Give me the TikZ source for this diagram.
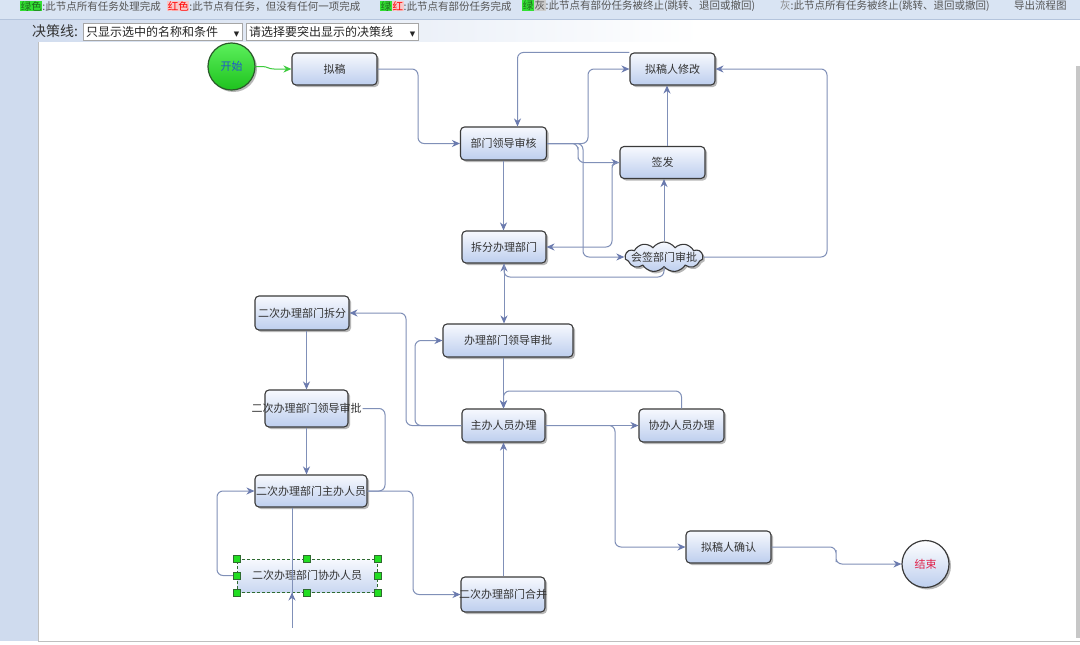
\documentclass[tikz,border=0pt]{standalone}
\usepackage{fontspec}
\setmainfont{Noto Sans CJK SC}
\newfontfamily\symfont{DejaVu Sans}
\usetikzlibrary{arrows.meta,shapes.symbols,shadows}
\definecolor{topbar}{HTML}{D9E4F3}
\definecolor{topline}{HTML}{B4C4DC}
\definecolor{strip}{HTML}{CFDBEE}
\definecolor{boxtop}{HTML}{F7F9FE}
\definecolor{boxbot}{HTML}{BDCEEE}
\definecolor{boxline}{HTML}{3A3A3A}
\definecolor{txt}{HTML}{333333}
\definecolor{edgec}{HTML}{8090B8}
\definecolor{arrowc}{HTML}{6A7AAE}
\definecolor{starttop}{HTML}{5CF05C}
\definecolor{startbot}{HTML}{1EC21E}
\definecolor{startline}{HTML}{2A5A2A}
\definecolor{startlink}{HTML}{3CCB3C}
\definecolor{starttext}{HTML}{2255CC}
\definecolor{endtext}{HTML}{E0204A}
\definecolor{hlg}{HTML}{33E033}
\definecolor{hlgt}{HTML}{1E6A1E}
\definecolor{hlr}{HTML}{F9C8C8}
\definecolor{hlgray}{HTML}{CCCCCC}
\definecolor{toptxt}{HTML}{555555}
\definecolor{selgreen}{HTML}{22DD22}
\definecolor{seldark}{HTML}{2F6B2F}
\newcommand\ztext[1]{\makebox[0pt]{#1}}
\newcommand\hlbox[2]{{\setlength{\fboxsep}{0.6pt}\colorbox{#1}{#2}}}
\begin{document}
\begin{tikzpicture}[x=1pt,y=-1pt,
  box/.style 2 args={rectangle, rounded corners=4pt, draw=boxline, line width=1.1pt,
    top color=boxtop, bottom color=boxbot, minimum width=#1pt, minimum height=#2pt,
    inner sep=0pt, text=txt, font=\fontsize{11}{13}\selectfont,
    drop shadow={shadow xshift=2pt, shadow yshift=-2pt, opacity=.4, fill=black!70}},
  selbox/.style 2 args={rectangle, draw=seldark, line width=1pt, dash pattern=on 3pt off 2pt,
    top color=boxtop, bottom color=boxbot!80, minimum width=#1pt, minimum height=#2pt,
    inner sep=0pt, text=txt, font=\fontsize{11}{13}\selectfont},
  cloudnode/.style={cloud, cloud puffs=11, cloud puff arc=110, aspect=3,
    draw=boxline, line width=1.1pt, top color=boxtop, bottom color=boxbot,
    minimum width=78pt, minimum height=30pt, inner sep=0pt, text=txt,
    font=\fontsize{11}{13}\selectfont,
    drop shadow={shadow xshift=2pt, shadow yshift=-2pt, opacity=.4, fill=black!70}},
  startnode/.style={circle, draw=startline, line width=1.2pt, top color=starttop,
    bottom color=startbot, minimum size=47pt, inner sep=0pt, text=starttext,
    font=\fontsize{11}{13}\selectfont,
    drop shadow={shadow xshift=2pt, shadow yshift=-2pt, opacity=.4, fill=black!70}},
  endnode/.style={circle, draw=boxline, line width=1.2pt, top color=white,
    bottom color=boxbot, minimum size=47pt, inner sep=0pt, text=endtext,
    font=\fontsize{11}{13}\selectfont,
    drop shadow={shadow xshift=2pt, shadow yshift=-2pt, opacity=.4, fill=black!70}},
  edge/.style={draw=edgec, line width=1pt, rounded corners=6pt,
    -{Stealth[length=8pt,width=7pt,color=arrowc]}},
  plainline/.style={draw=edgec, line width=1pt, rounded corners=6pt},
  gedge/.style={draw=startlink, line width=1pt, -{Stealth[length=8pt,width=7pt]}},
  handle/.style={fill=selgreen, draw=seldark, line width=0.6pt},
  topt/.style={anchor=west, inner sep=0pt, text=toptxt, font=\fontsize{10.5}{12}\selectfont},
  dd/.style={draw=black!35, fill=white, rectangle, inner xsep=3pt, inner ysep=0pt,
    minimum height=17pt, anchor=west, text=black!85, font=\fontsize{12}{14}\selectfont}
]
\useasboundingbox (0,0) rectangle (1080,645);
\clip (0,0) rectangle (1080,645);
% backgrounds
\fill[white] (0,0) rectangle (1080,645);
\fill[topbar] (0,0) rectangle (1080,19);
\shade[left color=strip, right color=white] (0,19) rectangle (700,42);
\fill[strip] (0,19) rectangle (38,641);
\draw[topline, line width=1pt] (0,19) -- (1080,19);
\fill[white] (38,42) rectangle (1075,641);
\draw[black!25, line width=1pt] (38,42) -- (38,641) -- (1080,641);
\fill[black!22] (1076,66) rectangle (1080,638);
% top legend
\node[topt] (t1) at (20,6) {\hlbox{hlg}{\textcolor{hlgt}{绿色}}:此节点所有任务处理完成};
\node[topt] (t2) at (167,6) {\hlbox{hlr}{\textcolor{red}{红色}}:此节点有任务，但没有任何一项完成};
\node[topt] (t3) at (380,6) {\hlbox{hlg}{\textcolor{hlgt}{绿}}\hlbox{hlr}{\textcolor{red}{红}}:此节点有部份任务完成};
\node[topt] (t4) at (522,6) {\hlbox{hlg}{\textcolor{hlgt}{绿}}\hlbox{hlgray}{灰}:此节点有部份任务被终止(跳转、退回或撤回)};
\node[topt] (t5) at (780,6) {\textcolor{black!45}{灰}:此节点所有任务被终止(跳转、退回或撤回)};
\node[topt] (t6) at (1014,6) {导出流程图};
% decision line controls
\node[anchor=west, inner sep=0pt, text=black!80, font=\fontsize{14}{16}\selectfont] (jcx) at (32,31.5) {决策线:};
\node[dd] (dd1) at (83,31.5) {\makebox[153pt][l]{只显示选中的名称和条件\hfill{\symfont\fontsize{7}{8}\selectfont ▼}}};
\node[dd] (dd2) at (246,31.5) {\makebox[166pt][l]{请选择要突出显示的决策线\hfill{\symfont\fontsize{7}{8}\selectfont ▼}}};
% nodes
\node[startnode] (start) at (231.5,66.5) {开始};
\node[box={85}{32}] (ng) at (334.5,69) {\ztext{拟稿}};
\node[box={86}{33}] (bmsh) at (503.5,143.5) {\ztext{部门领导审核}};
\node[box={85}{32}] (ngxg) at (672.5,69) {\ztext{拟稿人修改}};
\node[box={85}{32}] (qf) at (662.5,162.5) {\ztext{签发}};
\node[box={84}{32}] (cf) at (504,247) {\ztext{拆分办理部门}};
\node[cloudnode] (hq) at (664,257) {\ztext{会签部门审批}};
\node[box={94}{34}] (ecf) at (302,313) {\ztext{二次办理部门拆分}};
\node[box={130}{33}] (blsp) at (508,340.5) {\ztext{办理部门领导审批}};
\node[box={83}{37}] (eld) at (306.5,408.5) {\ztext{二次办理部门领导审批}};
\node[box={83}{33}] (zb) at (503.5,425.5) {\ztext{主办人员办理}};
\node[box={85}{33}] (xb) at (681.5,425.5) {\ztext{协办人员办理}};
\node[box={112}{32}] (ezb) at (311,491) {\ztext{二次办理部门主办人员}};
\node[selbox={140}{33}] (exb) at (307,575.5) {\ztext{二次办理部门协办人员}};
\node[box={84}{35}] (ehb) at (503,594.5) {\ztext{二次办理部门合并}};
\node[box={85}{32}] (ngqr) at (728.5,547) {\ztext{拟稿人确认}};
\node[endnode] (end) at (925.5,564) {结束};
% connectors
\draw[gedge] (start.east) -- (262,66.5) .. controls (268,66.5) and (268,69) .. (274,69) -- (ng.west);
\draw[edge] (ng.east) -| (418,110) |- (bmsh.west);
\draw[edge] (ngxg.north west) -| ([xshift=14pt]bmsh.north);
\draw[edge] (bmsh.east) -| (588,100) |- (ngxg.west);
\draw[edge] (bmsh.east) -| (578,153) |- (qf.west);
\draw[edge] (bmsh.east) -| (583,200) |- (hq.west);
\draw[edge] (qf.west) -| (612,200) |- (cf.east);
\draw[edge] ([xshift=4.5pt]qf.north) -- ([xshift=4.5pt]qf.north |- ngxg.south);
\draw[edge] (hq.north) -- (hq.north |- qf.south);
\draw[edge] (hq.east) -| (827,150) |- (ngxg.east);
\draw[edge] (hq.south) |- (600,277) -| (cf.south);
\draw[edge] (bmsh.south) -- (bmsh.south |- cf.north);
\draw[edge] (cf.south) -- (cf.south |- blsp.north);
\draw[edge] (zb.north |- blsp.south) -- (zb.north);
\draw[edge] (xb.north) |- (600,391) -| (zb.north);
\draw[edge] (zb.east) -- (xb.west);
\draw[edge] (zb.east) -| (615,490) |- (ngqr.west);
\draw[edge] (zb.west) -| (406,370) |- (ecf.east);
\draw[edge] (zb.west) -| (415,380) |- (blsp.west);
\draw[edge] (eld.north |- ecf.south) -- (eld.north);
\draw[edge] (eld.south) -- (eld.south |- ezb.north);
\draw[plainline] ([xshift=14pt]eld.east) -| (385,450) |- (ezb.east);
\draw[edge] (ezb.east) -| (413,550) |- (ehb.west);
\draw[edge] (exb.west) -| (217,530) |- (ezb.west);
\coordinate (low) at (292,628);
\draw[plainline] ([xshift=-19pt]ezb.south) -- (low);
\draw[edge] (low) -- (low |- exb.south);
\draw[edge] (zb.south |- ehb.north) -- (zb.south);
\draw[edge] (ngqr.east) -| (836,556) |- (end.west);
% selection handles
\foreach \a in {north west,north,north east,west,east,south west,south,south east}
  \draw[handle] ([shift={(-3.5pt,-3.5pt)}]exb.\a) rectangle ++(7pt,7pt);
\end{tikzpicture}
\end{document}
